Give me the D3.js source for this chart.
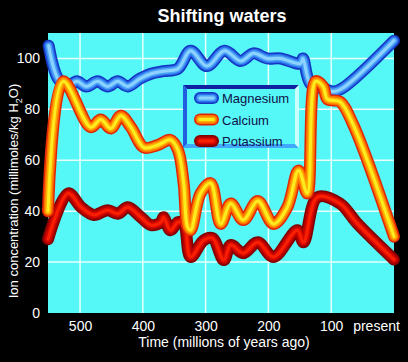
<!DOCTYPE html>
<html>
<head>
<meta charset="utf-8">
<script src="https://cdn.jsdelivr.net/npm/d3@7"></script>
<style>
  body { margin: 0; background: #000; }
  svg { display: block; font-family: "Liberation Sans", Arial, sans-serif; }
</style>
</head>
<body>
<div id="chart"></div>
<script>
// data: [age in millions of years ago, millimoles/kg H2O]
var magnesium = [[550,105],[535,92],[520,89],[505,91],[490,89],[472,91],[456,89],[440,91],[424,89],
  [405,92],[387,94],[367,95],[344,96],[324,103],[298,97],[270,103],[244,99],[224,102],[202,100],
  [181,100],[149,98],[145,100],[133,90],[110,88],[97,87],[81,88.5],[0,107]];
var calcium = [[551,40],[527,91],[483,73],[467,76],[451,72.5],[435,77.5],[419,73],[398,65],[376,66],
  [356,68],[344,64],[335,51],[329,34],[324,32.5],[308,47],[292,51],[276,35],[260,43],[240,36.5],
  [217,44],[192,35],[170,41.5],[152,56],[138,47],[125,91],[113,89],[106,84],[86,83],[65,74],[0,30]];
var potassium = [[551,29],[519,47],[498,41.5],[478,38.5],[456,40.4],[440,39],[424,41.5],[403,37.6],
  [387,34.5],[371,35.7],[367,37.6],[356,32.5],[344,35.7],[335,35.3],[324,22],[303,28.6],[289,29.4],
  [271,20.8],[260,26.7],[240,23.5],[217,27.8],[192,22],[154,32.5],[144,27.8],[122,45.5],[86,43],
  [59,35.3],[0,21]];
var seriesNames = ["Magnesium", "Calcium", "Potassium"];
var xTicks = [500, 400, 300, 200, 100];
var yTicks = [0, 20, 40, 60, 80, 100];

var width = 408, height = 362;
var margin = {top: 33, right: 14, bottom: 49, left: 48};

var svg = d3.select("#chart").append("svg")
  .attr("width", width).attr("height", height);

svg.append("rect").attr("width", width).attr("height", height).attr("fill", "#000");

var x = d3.scaleLinear().domain([551, 0]).range([margin.left, width - margin.right]);
var y = d3.scaleLinear().domain([0, 110]).range([height - margin.bottom, margin.top]);

// plot background
svg.append("rect")
  .attr("x", x(551)).attr("y", y(110))
  .attr("width", x(0) - x(551)).attr("height", y(0) - y(110))
  .attr("fill", "#55f7f7");

// grid
svg.append("g").selectAll("line").data(xTicks).join("line")
  .attr("x1", d => x(d)).attr("x2", d => x(d))
  .attr("y1", y(110)).attr("y2", y(0))
  .attr("stroke", "#e8ffff").attr("stroke-width", 1.5);
svg.append("g").selectAll("line").data(yTicks.filter(d => d > 0)).join("line")
  .attr("x1", x(551)).attr("x2", x(0))
  .attr("y1", d => y(d)).attr("y2", d => y(d))
  .attr("stroke", "#e8ffff").attr("stroke-width", 1.5);

// axes (labels only)
var xAxis = svg.append("g")
  .attr("transform", "translate(0," + (y(0) + 5) + ")")
  .call(d3.axisBottom(x).tickValues(xTicks.concat([0]))
    .tickFormat(d => d === 0 ? "present" : d).tickSize(0));
xAxis.select(".domain").remove();
xAxis.selectAll("text").attr("fill", "#fff").style("font-size", "14px")
  .style("font-family", "Liberation Sans, Arial, sans-serif");
xAxis.selectAll("text").filter(d => d === 0).attr("dx", -18);

var yAxis = svg.append("g")
  .attr("transform", "translate(" + (x(551) - 5) + ",0)")
  .call(d3.axisLeft(y).tickValues(yTicks).tickSize(0));
yAxis.select(".domain").remove();
yAxis.selectAll("text").attr("fill", "#fff").style("font-size", "14px")
  .style("font-family", "Liberation Sans, Arial, sans-serif");

// titles
svg.append("text").attr("x", 222).attr("y", 22).attr("text-anchor", "middle")
  .attr("fill", "#fff").style("font-size", "18px").style("font-weight", "bold")
  .text("Shifting waters");
svg.append("text").attr("x", 224).attr("y", 347).attr("text-anchor", "middle")
  .attr("fill", "#fff").style("font-size", "14px")
  .text("Time (millions of years ago)");
var yt = svg.append("text").attr("transform", "translate(18,191) rotate(-90)")
  .attr("text-anchor", "middle").attr("fill", "#fff").style("font-size", "13px");
yt.append("tspan").text("Ion concentration (millimoles/kg H");
yt.append("tspan").text("2").attr("dy", 4).style("font-size", "9px");
yt.append("tspan").text("O)").attr("dy", -4);

// tube-like strokes
var tubes = {
  Magnesium: ["#1434c4", "#2a70e8", "#4ea4f8", "#8cd4ff"],
  Calcium:   ["#e02800", "#ff7000", "#ffac00", "#ffec20"],
  Potassium: ["#800000", "#b00000", "#d80800", "#f82000"]
};
var widths = [12, 9, 6, 3];

var line = d3.line().x(d => x(d[0])).y(d => y(d[1])).curve(d3.curveCatmullRom.alpha(0.5));

var dataSets = [magnesium, calcium, potassium];
// calcium sits over the other two where they cross
var order = [2, 0, 1];
order.forEach(function(i) {
  var g = svg.append("g");
  widths.forEach(function(w, k) {
    g.append("path").datum(dataSets[i])
      .attr("fill", "none")
      .attr("stroke", tubes[seriesNames[i]][k])
      .attr("stroke-width", w)
      .attr("stroke-linecap", "round")
      .attr("stroke-linejoin", "round")
      .attr("d", line);
  });
});

// legend
var lg = svg.append("g").attr("transform", "translate(183,85)");
var lw = 116, lh = 63, b = 4;
lg.append("rect").attr("width", lw).attr("height", lh).attr("fill", "#55f7f7");
lg.append("polygon").attr("points", [[0,0],[lw,0],[lw-b,b],[b,b]].join(" ")).attr("fill", "#1020a0");
lg.append("polygon").attr("points", [[0,0],[b,b],[b,lh-b],[0,lh]].join(" ")).attr("fill", "#2060e0");
lg.append("polygon").attr("points", [[0,lh],[b,lh-b],[lw-b,lh-b],[lw,lh]].join(" ")).attr("fill", "#40a8ff");
lg.append("polygon").attr("points", [[lw,0],[lw,lh],[lw-b,lh-b],[lw-b,b]].join(" ")).attr("fill", "#c8ffff");

seriesNames.forEach(function(name, i) {
  var row = lg.append("g").attr("transform", "translate(0," + (13 + i * 21.5) + ")");
  widths.forEach(function(w, k) {
    row.append("line").attr("x1", 17).attr("x2", 30).attr("y1", 0).attr("y2", 0)
      .attr("stroke", tubes[name][k]).attr("stroke-width", w)
      .attr("stroke-linecap", "round");
  });
  row.append("text").attr("x", 39).attr("y", 5).attr("fill", "#101048")
    .style("font-size", "13px").text(name);
});
</script>
</body>
</html>
